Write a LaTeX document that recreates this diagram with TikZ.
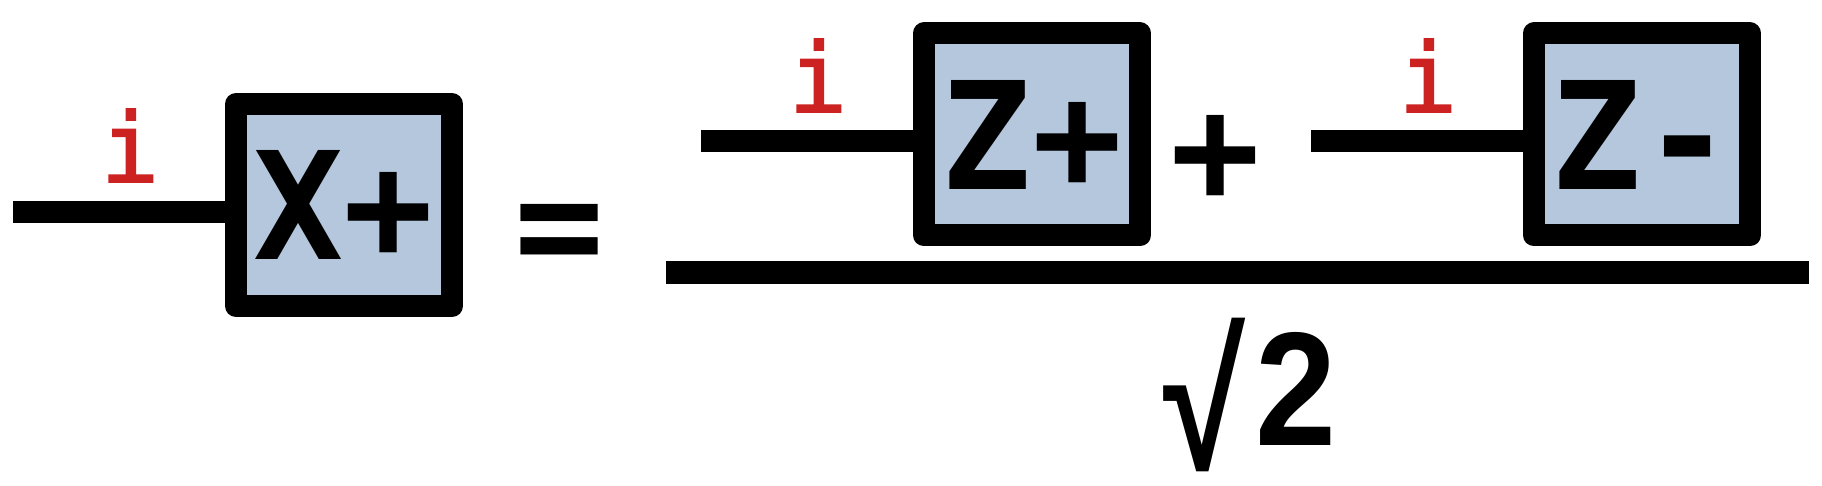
\documentclass[tikz,border=0pt]{standalone}
\usepackage{fontspec}
\newfontfamily\gatefont{DejaVu Sans Mono}
\newfontfamily\idxfont[FakeBold=2]{DejaVu Sans Mono}
\newfontfamily\radfont{Liberation Sans}
\definecolor{gatefill}{RGB}{180,199,221}
\definecolor{labred}{RGB}{204,34,34}
\begin{document}
\begin{tikzpicture}[x=0.5pt,y=-0.5pt,
  gate/.style={draw=black, line width=11pt, line join=round, fill=gatefill,
    minimum width=108pt, minimum height=101pt, inner sep=0pt,
    font=\gatefont\bfseries\fontsize{74.8}{80}\selectfont},
  wire/.style={line width=11pt},
  idx/.style={text=labred, inner sep=0pt, anchor=base,
    font=\idxfont\fontsize{48}{50}\selectfont},
  sym/.style={inner sep=0pt, anchor=base,
    font=\gatefont\bfseries\fontsize{74.8}{80}\selectfont}]
\useasboundingbox (0,0) rectangle (1822,486);
% left side
\node[gate] (xp) at (344,205) {X+};
\coordinate (w1) at (13,212);
\draw[wire] (w1) -- (w1 -| xp.west);
\node[idx] (i1) at (130,182) {i};
\node[sym] (eq) at (560,276.5) {=};
% numerator
\node[gate] (zp) at (1032,134.5) {Z+};
\coordinate (w2) at (701,141.5);
\draw[wire] (w2) -- (w2 -| zp.west);
\node[idx] (i2) at (818,112) {i};
\node[sym] (plus) at (1216,203) {+};
\node[gate] (zm) at (1642,134.5) {Z-};
\coordinate (w3) at (1311,141.5);
\draw[wire] (w3) -- (w3 -| zm.west);
\node[idx] (i3) at (1428,112) {i};
% fraction bar
\coordinate (f1) at (666,272.5);
\coordinate (f2) at (1809,272.5);
\draw[line width=11.5pt] (f1) -- (f2);
% denominator
\node[inner sep=0pt, anchor=base east, font=\radfont\bfseries\fontsize{81}{85}\selectfont] (den) at (1337,445) {{\fontsize{92}{92}\selectfont\raisebox{-12pt}{\scalebox{0.81}[1.04]{√}}}\kern5pt\scalebox{0.9}[1]{2}};
\end{tikzpicture}
\end{document}
